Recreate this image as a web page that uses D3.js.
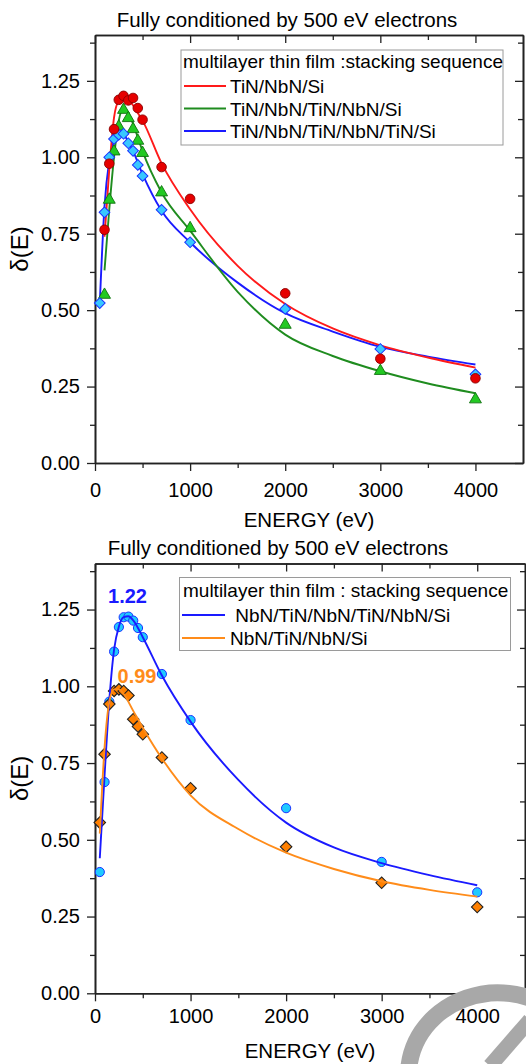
<!DOCTYPE html>
<html><head><meta charset="utf-8">
<script src="https://cdn.jsdelivr.net/npm/d3@7"></script>
<style>
body{margin:0;background:#fff}
svg{display:block}
text{font-family:"Liberation Sans",Arial,Helvetica,sans-serif;fill:#000}
</style>
</head><body>
<svg id="c" width="526" height="1064"></svg>
<script>
// ---------------- DATA ----------------
const titleText = "Fully conditioned by 500 eV electrons";
const xLabel = "ENERGY (eV)";
const yLabel = "δ(E)";
const energyTicks = [0, 1000, 2000, 3000, 4000];
const energyMinor = [500, 1500, 2500, 3500];
const yTicks = [0, 0.25, 0.5, 0.75, 1.0, 1.25];
const yMinor = [0.125, 0.375, 0.625, 0.875, 1.125, 1.375];

// top panel: measured points
const topSeriesNames = ["TiN/NbN/Si", "TiN/NbN/TiN/NbN/Si", "TiN/NbN/TiN/NbN/TiN/Si"];
const topLegendTitle = "multilayer thin film :stacking sequence";
const redE = [100, 150, 200, 250, 300, 350, 400, 450, 500, 700, 1000, 2000, 3000, 4000];
const redY = [0.763, 0.979, 1.092, 1.188, 1.201, 1.186, 1.194, 1.161, 1.123, 0.968, 0.864, 0.555, 0.341, 0.277];
const greenE = [100, 150, 200, 250, 300, 350, 400, 450, 500, 700, 1000, 2000, 3000, 4000];
const greenY = [0.55, 0.861, 1.019, 1.10, 1.155, 1.128, 1.092, 1.054, 1.014, 0.885, 0.768, 0.452, 0.301, 0.208];
const blueE = [50, 100, 150, 200, 250, 300, 350, 400, 450, 500, 700, 1000, 2000, 3000, 4000];
const blueY = [0.523, 0.82, 1.0, 1.06, 1.074, 1.077, 1.046, 1.021, 0.975, 0.939, 0.828, 0.722, 0.504, 0.373, 0.290];
// top panel: fitted curves
const redFitE = [100, 150, 200, 250, 300, 350, 400, 450, 500, 700, 1000, 1500, 2000, 2500, 3000, 3500, 4000];
const redFitY = [0.74, 0.96, 1.13, 1.185, 1.195, 1.19, 1.17, 1.145, 1.12, 0.98, 0.83, 0.645, 0.52, 0.44, 0.385, 0.345, 0.312];
const greenFitE = [100, 150, 200, 250, 300, 350, 400, 450, 500, 700, 1000, 1500, 2000, 2500, 3000, 3500, 4000];
const greenFitY = [0.63, 0.83, 1.0, 1.12, 1.16, 1.145, 1.11, 1.065, 1.02, 0.885, 0.76, 0.56, 0.42, 0.35, 0.30, 0.26, 0.228];
const blueFitE = [50, 100, 150, 200, 250, 300, 350, 400, 500, 700, 1000, 1500, 2000, 2500, 3000, 3500, 4000];
const blueFitY = [0.52, 0.84, 0.99, 1.055, 1.08, 1.075, 1.05, 1.02, 0.945, 0.825, 0.722, 0.59, 0.49, 0.43, 0.38, 0.348, 0.322];

// bottom panel: measured points
const botSeriesNames = [" NbN/TiN/NbN/TiN/NbN/Si", "NbN/TiN/NbN/Si"];
const botLegendTitle = "multilayer thin film : stacking sequence";
const cyanE = [50, 100, 150, 200, 250, 300, 350, 400, 450, 500, 700, 1000, 2000, 3000, 4000];
const cyanY = [0.395, 0.688, 0.95, 1.113, 1.193, 1.225, 1.227, 1.214, 1.19, 1.16, 1.04, 0.89, 0.603, 0.428, 0.329];
const orangeE = [50, 100, 150, 200, 250, 300, 350, 400, 450, 500, 700, 1000, 2000, 3000, 4000];
const orangeY = [0.556, 0.779, 0.942, 0.985, 0.99, 0.985, 0.97, 0.893, 0.869, 0.844, 0.768, 0.668, 0.477, 0.36, 0.281];
// bottom panel: fitted curves
const cyanFitE = [50, 100, 150, 200, 250, 300, 350, 400, 500, 700, 1000, 1500, 2000, 2500, 3000, 3500, 4000];
const cyanFitY = [0.44, 0.71, 0.955, 1.12, 1.195, 1.225, 1.228, 1.215, 1.16, 1.035, 0.885, 0.695, 0.556, 0.475, 0.424, 0.385, 0.352];
const orangeFitE = [50, 100, 150, 200, 250, 300, 400, 500, 700, 1000, 1500, 2000, 2500, 3000, 3500, 4000];
const orangeFitY = [0.52, 0.80, 0.95, 0.99, 0.99, 0.975, 0.92, 0.865, 0.765, 0.645, 0.535, 0.458, 0.405, 0.365, 0.337, 0.315];
// peak annotations
const peakLabels = [
  {text: "1.22", e: 340, v: 1.272, color: "#1a1aff"},
  {text: "0.99", e: 440, v: 1.012, color: "#ff8c1a"}
];

// ---------------- DRAW ----------------
const svg = d3.select("#c");
const zip = (xs, ys) => xs.map((x, i) => [x, ys[i]]);

function panel(cfg) {
  const x = d3.scaleLinear().domain([0, 4500]).range([cfg.left, cfg.right]);
  const y = d3.scaleLinear().domain([0, 1.4]).range([cfg.bottom, cfg.top]);
  const g = svg.append("g");
  const axStyle = sel => {
    sel.selectAll("path.domain").attr("stroke", "#222").attr("stroke-width", 1.6);
    sel.selectAll(".tick line").attr("stroke", "#222").attr("stroke-width", 1.3);
    sel.selectAll("text").attr("font-size", 20).attr("font-family", '"Liberation Sans",Arial,sans-serif').attr("fill", "#000");
  };
  // bottom axis
  g.append("g").attr("transform", `translate(0,${cfg.bottom})`)
    .call(d3.axisBottom(x).tickValues(energyMinor).tickSize(5).tickFormat("").tickSizeOuter(0)).call(axStyle);
  g.append("g").attr("transform", `translate(0,${cfg.bottom})`)
    .call(d3.axisBottom(x).tickValues(energyTicks).tickSize(8).tickPadding(cfg.xPad).tickFormat(d3.format("d")).tickSizeOuter(0)).call(axStyle);
  // top axis (inward ticks)
  g.append("g").attr("transform", `translate(0,${cfg.top})`)
    .call(d3.axisBottom(x).tickValues(energyMinor).tickSize(5).tickFormat("").tickSizeOuter(0)).call(axStyle);
  g.append("g").attr("transform", `translate(0,${cfg.top})`)
    .call(d3.axisBottom(x).tickValues(energyTicks).tickSize(8).tickFormat("").tickSizeOuter(0)).call(axStyle);
  // left axis
  g.append("g").attr("transform", `translate(${cfg.left},0)`)
    .call(d3.axisLeft(y).tickValues(yMinor).tickSize(5).tickFormat("").tickSizeOuter(0)).call(axStyle);
  g.append("g").attr("transform", `translate(${cfg.left},0)`)
    .call(d3.axisLeft(y).tickValues(yTicks).tickSize(8).tickPadding(7).tickFormat(d3.format(".2f")).tickSizeOuter(0)).call(axStyle);
  // right axis (inward)
  g.append("g").attr("transform", `translate(${cfg.right},0)`)
    .call(d3.axisLeft(y).tickValues(yMinor).tickSize(5).tickFormat("").tickSizeOuter(0)).call(axStyle);
  g.append("g").attr("transform", `translate(${cfg.right},0)`)
    .call(d3.axisLeft(y).tickValues(yTicks).tickSize(8).tickFormat("").tickSizeOuter(0)).call(axStyle);

  // titles
  svg.append("text").attr("x", cfg.titleX).attr("y", cfg.titleY).attr("text-anchor", "middle")
    .attr("font-size", 20.5).text(titleText);
  svg.append("text").attr("x", (cfg.left + cfg.right) / 2).attr("y", cfg.xLabelY).attr("text-anchor", "middle")
    .attr("font-size", 20.5).text(xLabel);
  svg.append("text").attr("transform", `translate(27.5,${(cfg.top + cfg.bottom) / 2}) rotate(-90)`)
    .attr("text-anchor", "middle").attr("font-size", 24).text(yLabel);
  return {x, y, g};
}

const line = (x, y) => d3.line().x(d => x(d[0])).y(d => y(d[1])).curve(d3.curveMonotoneX);

// ---- top panel
{
  const {x, y} = panel({left: 95, right: 523, top: 35, bottom: 463, xPad: 12, titleX: 287, titleY: 27, xLabelY: 527});
  const fits = [[zip(blueFitE, blueFitY), "#1a1aff"], [zip(greenFitE, greenFitY), "#1f8c1f"], [zip(redFitE, redFitY), "#ff1a1a"]];
  const lg = svg.append("g");
  fits.forEach(([d, c]) => lg.append("path").datum(d).attr("d", line(x, y)).attr("fill", "none").attr("stroke", c).attr("stroke-width", 1.9));
  const mg = svg.append("g");
  mg.selectAll("path.tri").data(zip(greenE, greenY)).join("path")
    .attr("transform", d => `translate(${x(d[0])},${y(d[1])})`)
    .attr("d", d3.symbol(d3.symbolTriangle, 62)).attr("fill", "#22c922").attr("stroke", "#107010").attr("stroke-width", 0.9);
  mg.selectAll("path.dia").data(zip(blueE, blueY)).join("path")
    .attr("transform", d => `translate(${x(d[0])},${y(d[1])}) rotate(45)`)
    .attr("d", d3.symbol(d3.symbolSquare, 58)).attr("fill", "#38c8ff").attr("stroke", "#1a33ff").attr("stroke-width", 1);
  mg.selectAll("circle").data(zip(redE, redY)).join("circle")
    .attr("cx", d => x(d[0])).attr("cy", d => y(d[1])).attr("r", 4.8)
    .attr("fill", "#e60000").attr("stroke", "#8a0000").attr("stroke-width", 0.9);

  // legend
  const leg = svg.append("g");
  leg.append("rect").attr("x", 181).attr("y", 50).attr("width", 322).attr("height", 95)
    .attr("fill", "#fff").attr("stroke", "#9a9a9a").attr("stroke-width", 1);
  leg.append("text").attr("x", 183).attr("y", 68).attr("font-size", 19).text(topLegendTitle);
  const cols = ["#ff1a1a", "#1f8c1f", "#1a1aff"];
  topSeriesNames.forEach((n, i) => {
    const yy = 86 + i * 22.5;
    leg.append("line").attr("x1", 184).attr("x2", 226).attr("y1", yy).attr("y2", yy).attr("stroke", cols[i]).attr("stroke-width", 1.9);
    leg.append("text").attr("x", 230).attr("y", yy + 7).attr("font-size", 19).text(n);
  });
}

// ---- bottom panel
{
  const {x, y} = panel({left: 95, right: 525, top: 563.5, bottom: 993.3, xPad: 8, titleX: 278, titleY: 555, xLabelY: 1058});
  const mg = svg.append("g");
  mg.selectAll("circle").data(zip(cyanE, cyanY)).join("circle")
    .attr("cx", d => x(d[0])).attr("cy", d => y(d[1])).attr("r", 4.6)
    .attr("fill", "#1fcaff").attr("stroke", "#1a33ff").attr("stroke-width", 1);
  mg.selectAll("path.dia").data(zip(orangeE, orangeY)).join("path")
    .attr("transform", d => `translate(${x(d[0])},${y(d[1])}) rotate(45)`)
    .attr("d", d3.symbol(d3.symbolSquare, 66)).attr("fill", "#ff8000").attr("stroke", "#222").attr("stroke-width", 1.1);
  const lg = svg.append("g");
  [[zip(cyanFitE, cyanFitY), "#1a1aff"], [zip(orangeFitE, orangeFitY), "#ff8c1a"]].forEach(([d, c]) =>
    lg.append("path").datum(d).attr("d", line(x, y)).attr("fill", "none").attr("stroke", c).attr("stroke-width", 1.9));

  peakLabels.forEach(p => svg.append("text").attr("x", x(p.e)).attr("y", y(p.v)).attr("text-anchor", "middle")
    .attr("font-size", 20).attr("font-weight", "bold").style("fill", p.color).text(p.text));

  const leg = svg.append("g");
  leg.append("rect").attr("x", 179.5).attr("y", 577.5).attr("width", 331).attr("height", 73)
    .attr("fill", "#fff").attr("stroke", "#9a9a9a").attr("stroke-width", 1);
  leg.append("text").attr("x", 183).attr("y", 597).attr("font-size", 19).text(botLegendTitle);
  const cols = ["#1a1aff", "#ff8c1a"];
  botSeriesNames.forEach((n, i) => {
    const yy = 615 + i * 23;
    leg.append("line").attr("x1", 182).attr("x2", 225).attr("y1", yy).attr("y2", yy).attr("stroke", cols[i]).attr("stroke-width", 1.9);
    leg.append("text").attr("x", 230).attr("y", yy + 7).attr("font-size", 19).attr("xml:space", "preserve").style("white-space", "pre").text(n);
  });
}

// ---- watermark fragment (grey logo partially visible at bottom-right)
const wm = svg.append("g").attr("fill", "none").attr("stroke", "#a8a8a8");
wm.append("path").attr("d", "M409,1066 C414,1028 445,998 490,993 C505,992 518,994 530,998").attr("stroke-width", 17);
wm.append("path").attr("d", "M490,1066 L530,1020").attr("stroke-width", 15);
</script>
</body></html>
